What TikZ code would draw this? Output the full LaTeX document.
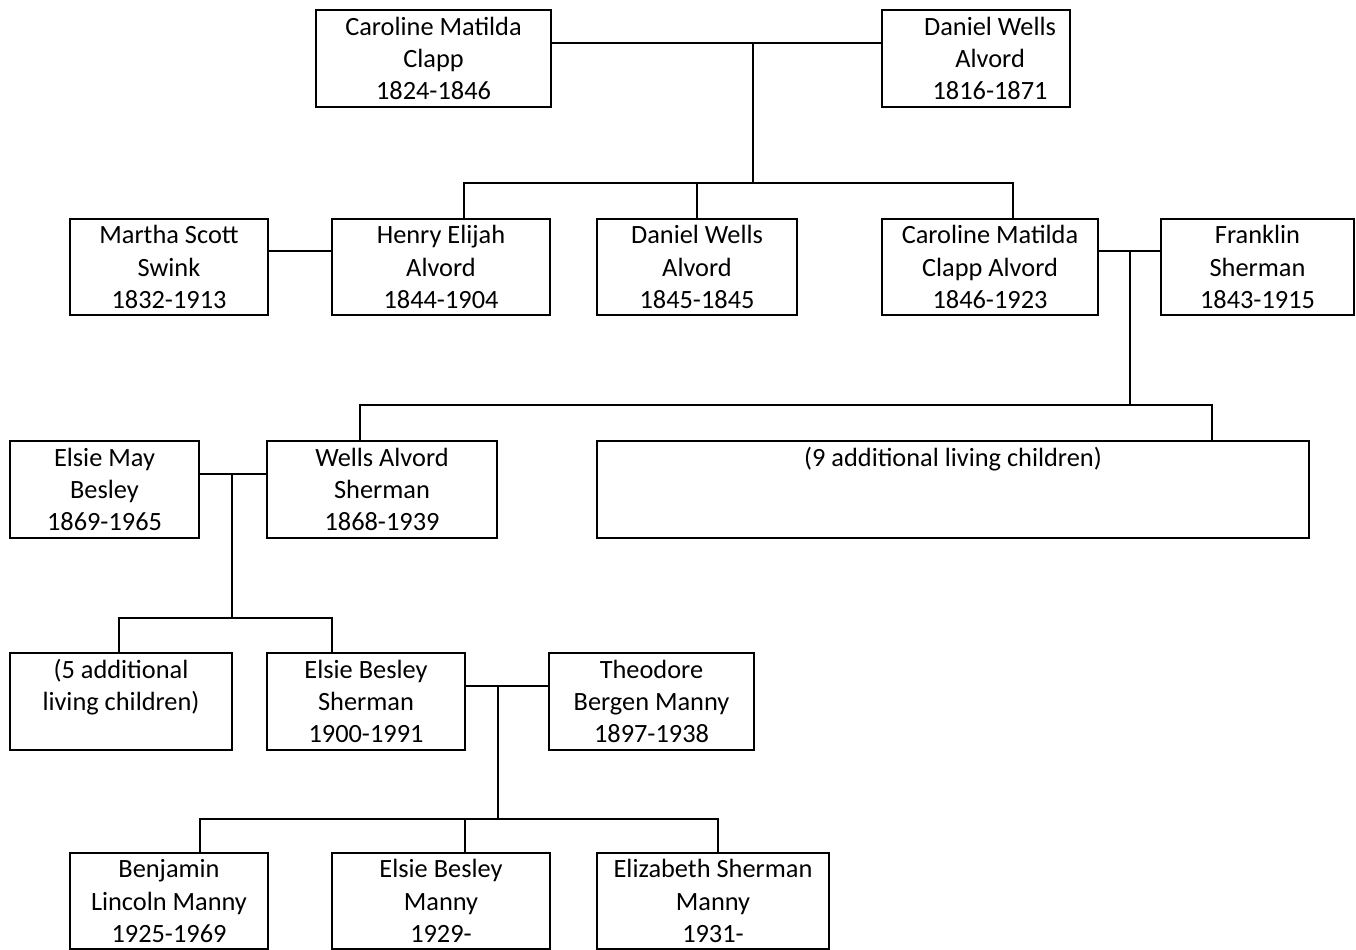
\documentclass[tikz,border=0pt]{standalone}
\usepackage{fontspec}
\setmainfont{Carlito}
\usetikzlibrary{positioning}

\begin{document}
\begin{tikzpicture}[
  x=0.02cm, y=-0.02cm,
  every node/.style={font=\fontsize{15}{18.4}\selectfont},
  pbox/.style={draw, line width=1.1pt, align=center, inner xsep=2pt, inner ysep=3.7pt,
               text height=47.3pt, text depth=0.2pt, minimum width=#1*0.02cm},
  oneline/.style={text height=10.5pt, text depth=37pt},
  twoline/.style={text height=28.9pt, text depth=18.6pt},
  link/.style={line width=1.1pt},
]
  \useasboundingbox (0,0) rectangle (1356,950);

  % generation 1
  \node[pbox=235] (cmc) at (433.5,58.5) {Caroline Matilda\\Clapp\\1824-1846};
  \node[pbox=188] (dwa) at (976,58.5)
    {\hspace*{16pt}Daniel Wells\\\hspace*{16pt}Alvord\\\hspace*{16pt}1816-1871};

  % generation 2
  \node[pbox=198] (martha) at (169,267) {Martha Scott\\Swink\\1832-1913};
  \node[pbox=218] (henry) at (441,267) {Henry Elijah\\Alvord\\1844-1904};
  \node[pbox=200] (daniel) at (697,267) {Daniel Wells\\Alvord\\1845-1845};
  \node[pbox=216] (cmca) at (990,267) {Caroline Matilda\\Clapp Alvord\\1846-1923};
  \node[pbox=193] (franklin) at (1257.5,267) {Franklin\\Sherman\\1843-1915};

  % generation 3
  \node[pbox=189] (elsiemay) at (104.5,489.5) {Elsie May\\Besley\\1869-1965};
  \node[pbox=230] (wells) at (382,489.5) {Wells Alvord\\Sherman\\1868-1939};
  \node[pbox=712,oneline] (nine) at (953,489.5) {(9 additional living children)};

  % generation 4
  \node[pbox=222,twoline] (five) at (121,701.5) {(5 additional\\living children)};
  \node[pbox=198] (ebs) at (366,701.5) {Elsie Besley\\Sherman\\1900-1991};
  \node[pbox=205] (theo) at (651.5,701.5) {Theodore\\Bergen Manny\\1897-1938};

  % generation 5
  \node[pbox=198] (benj) at (169,901) {Benjamin\\Lincoln Manny\\1925-1969};
  \node[pbox=218] (ebm) at (441,901) {Elsie Besley\\Manny\\1929-};
  \node[pbox=232] (eliz) at (713,901) {Elizabeth Sherman\\Manny\\1931-};

  % couple 1 and children
  \coordinate (m1) at (753,43);
  \coordinate (k1) at (753,183);
  \coordinate (b1l) at (464,183);
  \coordinate (b1r) at (1013,183);
  \draw[link] (cmc.east |- m1) -- (dwa.west |- m1);
  \draw[link] (m1) -- (k1);
  \draw[link] (henry.north -| b1l) -- (b1l) -- (b1r) -- (cmca.north -| b1r);
  \draw[link] (daniel.north) -- (daniel.north |- k1);

  % Martha + Henry
  \coordinate (m2) at (300,251);
  \draw[link] (martha.east |- m2) -- (henry.west |- m2);

  % Caroline + Franklin and children
  \coordinate (m3) at (1130,251);
  \coordinate (k3) at (1130,405);
  \coordinate (b3l) at (360,405);
  \coordinate (b3r) at (1212,405);
  \draw[link] (cmca.east |- m3) -- (franklin.west |- m3);
  \draw[link] (m3) -- (k3);
  \draw[link] (wells.north -| b3l) -- (b3l) -- (b3r) -- (nine.north -| b3r);

  % Elsie May + Wells and children
  \coordinate (m4) at (232,474);
  \coordinate (k4) at (232,618);
  \coordinate (b4l) at (119,618);
  \coordinate (b4r) at (332,618);
  \draw[link] (elsiemay.east |- m4) -- (wells.west |- m4);
  \draw[link] (m4) -- (k4);
  \draw[link] (five.north -| b4l) -- (b4l) -- (b4r) -- (ebs.north -| b4r);

  % Elsie Besley + Theodore and children
  \coordinate (m5) at (498,686);
  \coordinate (k5) at (498,819);
  \coordinate (b5l) at (200,819);
  \coordinate (b5m) at (465,819);
  \coordinate (b5r) at (718,819);
  \draw[link] (ebs.east |- m5) -- (theo.west |- m5);
  \draw[link] (m5) -- (k5);
  \draw[link] (benj.north -| b5l) -- (b5l) -- (b5r) -- (eliz.north -| b5r);
  \draw[link] (b5m) -- (ebm.north -| b5m);
\end{tikzpicture}
\end{document}
